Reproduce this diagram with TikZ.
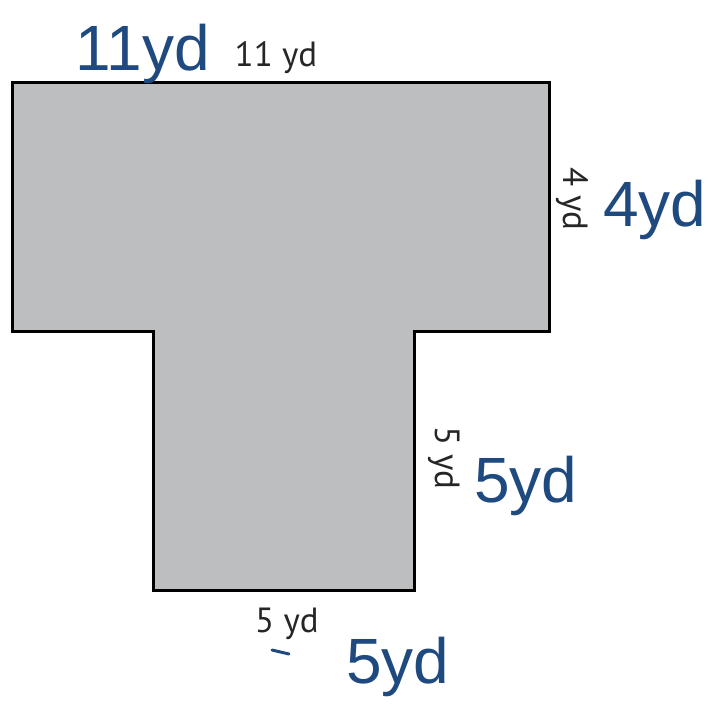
\documentclass[tikz,border=0pt]{standalone}
\usepackage{fontspec}
\setmainfont{Liberation Sans}
\newfontfamily\printfont{PT Sans}
\definecolor{shapegray}{HTML}{BCBEC0}
\definecolor{inkblue}{HTML}{1F4A80}
\tikzset{
  printlbl/.style={font=\printfont\fontsize{35}{40}\selectfont, text=black!85, inner sep=0pt},
  handlbl/.style={font=\fontsize{64}{70}\selectfont, text=inkblue, inner sep=0pt},
}
\begin{document}
\begin{tikzpicture}[x=1pt,y=-1pt]
\useasboundingbox (0,0) rectangle (709,723);
\draw[line width=3pt, fill=shapegray, line join=miter]
  (12,82) -- (549,82) -- (549,331) -- (414,331) -- (414,590) -- (153,590) -- (153,331) -- (12,331) -- cycle;
% printed labels
\node[printlbl, anchor=base] (top) at (276,66) {11 yd};
\node[printlbl, rotate=-90] (right4) at (572,199) {4 yd};
\node[printlbl, rotate=-90] (right5) at (444,458) {5 yd};
\node[printlbl, anchor=base] (bot) at (287,632) {5 yd};
% handwritten annotations
\node[handlbl, anchor=base] (h11) at (143,70) {11yd};
\node[handlbl, anchor=base] (h4) at (655,226) {4yd};
\node[handlbl, anchor=base] (h5r) at (526,502) {5yd};
\node[handlbl, anchor=base] (h5b) at (398,683) {5yd};
\draw[inkblue, line width=3pt, line cap=round] (272,650) -- (289,654);
\end{tikzpicture}
\end{document}
